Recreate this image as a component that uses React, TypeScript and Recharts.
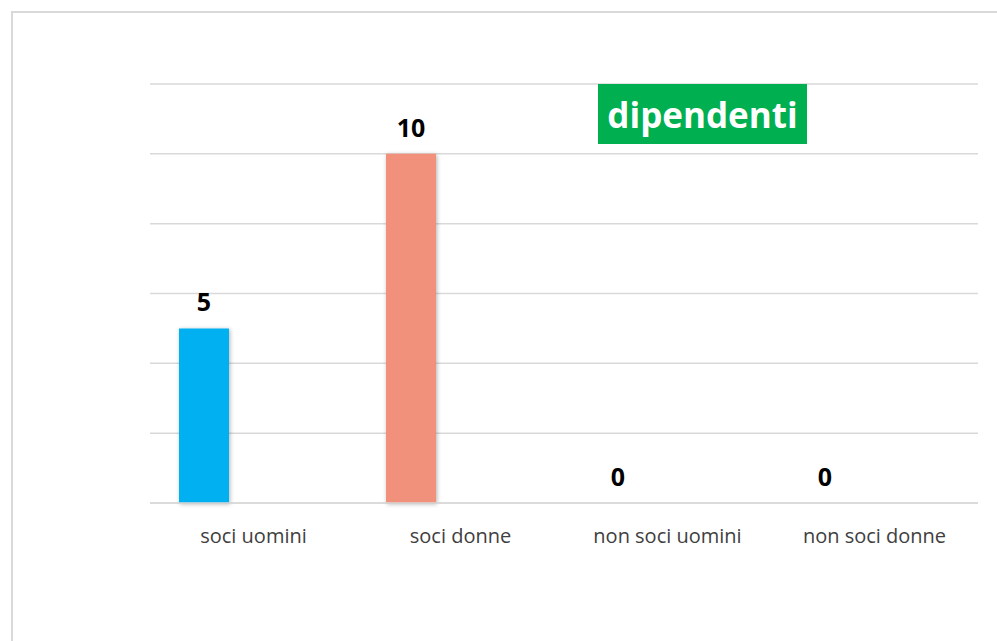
import { BarChart, Bar, XAxis, YAxis, CartesianGrid, LabelList, Cell } from 'recharts';

const categories = ['soci uomini', 'soci donne', 'non soci uomini', 'non soci donne'];
const dipendenti = [5, 10, 0, 0];
// second (empty) series of the original clustered chart, it keeps the bars off-centre
const spacer = [null, null, null, null];
const barColors = ['#00B0F0', '#F1917B', '#00B0F0', '#F1917B'];
const yTicks = [0, 2, 4, 6, 8, 10, 12];
const title = 'dipendenti';

const data = categories.map((name, i) => ({
  name,
  value: dipendenti[i],
  spacer: spacer[i],
}));

const FONT = '"Open Sans", sans-serif';

export default function App() {
  return (
    <div style={{ position: 'absolute', left: 0, top: 0, width: 997, height: 641, background: '#fff', overflow: 'hidden' }}>
      <div
        style={{
          position: 'absolute',
          left: 11,
          top: 11,
          width: 1000,
          height: 700,
          borderTop: '2px solid #d9d9d9',
          borderLeft: '2px solid #d9d9d9',
        }}
      />
      <BarChart
        width={997}
        height={641}
        data={data}
        margin={{ top: 84, right: 19, left: 150, bottom: 108 }}
        barSize={50}
        barGap={50}
        style={{ position: 'absolute', left: 0, top: 0 }}
      >
        <defs>
          <filter id="barShadow" x="-20%" y="-5%" width="140%" height="110%">
            <feDropShadow dx="1" dy="1" stdDeviation="2" floodColor="#000" floodOpacity="0.3" />
          </filter>
        </defs>
        <CartesianGrid horizontal vertical={false} stroke="#d9d9d9" strokeWidth={1.5} />
        <XAxis
          dataKey="name"
          axisLine={{ stroke: '#d9d9d9', strokeWidth: 1.5 }}
          tickLine={false}
          tickMargin={20}
          tick={{ fill: '#404040', fontSize: 20, fontFamily: FONT }}
          interval={0}
        />
        <YAxis hide domain={[0, 12]} ticks={yTicks} />
        <Bar dataKey="value" isAnimationActive={false} minPointSize={0.01}>
          {data.map((d, i) => (
            <Cell key={d.name} fill={barColors[i]} filter="url(#barShadow)" />
          ))}
          <LabelList
            dataKey="value"
            position="top"
            offset={17}
            fill="#000"
            fontSize={25}
            fontWeight={700}
            fontFamily={FONT}
          />
        </Bar>
        <Bar dataKey="spacer" fill="#F1917B" isAnimationActive={false} />
      </BarChart>
      <div
        style={{
          position: 'absolute',
          left: 598,
          top: 84,
          width: 209,
          height: 60,
          background: '#00B050',
          color: '#fff',
          fontFamily: FONT,
          fontWeight: 700,
          fontSize: 35,
          lineHeight: '62px',
          textAlign: 'center',
        }}
      >
        {title}
      </div>
    </div>
  );
}
